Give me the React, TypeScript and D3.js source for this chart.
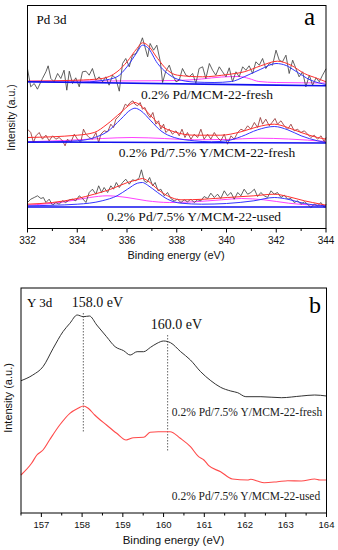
import React from "react";
import * as d3 from "d3";

// ---- panel a: Pd 3d (binding energy eV, intensity a.u.) ----
const pdTicks = [332, 334, 336, 338, 340, 342, 344];

const pdFreshRaw = [[332.00,159.7],[332.13,141.7],[332.27,145],[332.40,139.3],[332.60,150],[332.74,156.7],[332.83,162.7],[332.94,150],[333.07,146.7],[333.21,155],[333.34,150],[333.47,158.3],[333.58,138.3],[333.68,157.3],[333.81,145],[333.94,150.7],[334.08,141.7],[334.21,156.7],[334.35,157.3],[334.48,153.3],[334.61,160],[334.75,148.3],[334.88,151.7],[335.02,146.7],[335.15,151.7],[335.28,143.3],[335.42,153.3],[335.55,150],[335.69,137.3],[335.82,165],[335.95,170],[336.09,161.7],[336.22,173.3],[336.36,175],[336.49,181.7],[336.62,190.7],[336.72,181.7],[336.83,171.7],[336.93,185],[337.07,178.3],[337.20,183.3],[337.34,166.7],[337.43,146],[337.56,157.3],[337.70,163.3],[337.83,153.3],[337.97,146.7],[338.10,148.3],[338.23,160],[338.37,153.3],[338.50,151.7],[338.64,155],[338.77,145],[338.90,160],[339.04,161.7],[339.17,150],[339.31,165],[339.44,158.3],[339.57,153.3],[339.71,161.7],[339.84,156.7],[339.98,151.7],[340.11,160.7],[340.24,146.7],[340.38,156.7],[340.51,151.7],[340.65,161.7],[340.78,158.3],[340.91,162.7],[341.05,155],[341.18,166.7],[341.32,163.3],[341.45,170],[341.58,160],[341.72,165],[341.85,163.3],[341.99,178.3],[342.12,168.3],[342.25,166.7],[342.39,173.3],[342.52,155],[342.66,168.3],[342.79,160],[342.92,151.7],[343.06,156.7],[343.19,141.7],[343.33,153.3],[343.46,143.3],[343.60,150.7],[343.73,146.7],[343.86,153.3],[344.00,159.7]];
const pdFreshFit = [[332,147.3],[334,148.3],[335,150],[335.6,156.7],[336,166.7],[336.4,180],[336.62,185.7],[336.83,183.3],[337.23,170],[337.63,158.3],[338.03,153.3],[339.04,151.7],[340.04,154],[340.71,156.7],[341.38,162.7],[342.05,167.3],[342.59,163.3],[343.13,155],[343.66,150],[344,146.7]];
const pdFreshPeaks = [[332,146.7],[334,146.2],[335,148],[335.6,151.7],[336,161.7],[336.4,176],[336.62,183.3],[336.83,181],[337.23,165],[337.63,155],[338.03,149.3],[338.7,146.5],[339.5,146],[340.2,147],[340.71,151.7],[341.38,159.3],[341.99,165],[342.4,163],[342.72,158.3],[343.39,148.3],[344,144]];
const pdFreshMinor = [[332,147.3],[334,147.5],[336,147.6],[338,148],[339,149.5],[339.8,151.5],[340.5,152],[340.9,150],[341.3,147],[342,146],[343,145.7],[344,145.5]];
const pdFreshBase = [[332,146.7],[344,142.7]];

const pdYFreshRaw = [[332.00,99.3],[332.13,96],[332.24,86],[332.34,92.7],[332.47,96],[332.60,89.3],[332.74,93.3],[332.87,87.7],[333.01,92.7],[333.14,89.3],[333.27,91],[333.41,87.7],[333.51,82.7],[333.61,89.3],[333.74,86],[333.88,94.3],[334.01,89.3],[334.14,86],[334.25,99.3],[334.35,94.3],[334.48,91],[334.61,89.3],[334.75,96],[334.86,86],[334.95,94.3],[335.08,97.7],[335.22,96.7],[335.35,104.3],[335.46,101],[335.55,109.3],[335.69,112.7],[335.82,117.7],[335.93,124.3],[336.02,122.7],[336.13,126],[336.24,127.7],[336.32,124.3],[336.42,122.7],[336.53,126],[336.62,119.3],[336.72,121],[336.83,114.3],[336.93,111],[337.04,116],[337.16,104.3],[337.27,107.7],[337.36,99.3],[337.47,104.3],[337.56,96],[337.70,99.3],[337.83,94.3],[337.97,97.7],[338.10,92.7],[338.21,99.3],[338.33,91],[338.43,96],[338.57,89.3],[338.70,94.3],[338.84,91],[338.97,99.3],[339.10,89.3],[339.24,94.3],[339.37,89.3],[339.51,96],[339.64,91],[339.77,87.7],[339.91,94.3],[340.04,84.3],[340.18,92.7],[340.31,89.3],[340.45,96],[340.58,99.3],[340.71,97.7],[340.85,102.7],[340.98,99.3],[341.12,106],[341.25,101],[341.36,111],[341.45,104.3],[341.58,109.3],[341.72,102.7],[341.83,106],[341.95,110],[342.05,104.3],[342.19,107.7],[342.32,102.7],[342.46,99.3],[342.59,104.3],[342.72,97.7],[342.86,99.3],[342.99,96],[343.13,97.7],[343.26,94.3],[343.39,91],[343.53,93.3],[343.66,89.3],[343.80,92.7],[343.93,86.7],[344.00,91]];
const pdYFreshFit = [[332,91],[334,93.3],[334.68,96],[335.2,104.3],[335.75,116],[336.15,124.3],[336.32,126],[336.56,122.7],[336.96,112.7],[337.36,102.7],[337.9,96.7],[338.7,93.3],[339.77,93.3],[340.58,96.7],[341.25,101.7],[341.92,104.3],[342.46,101],[343,96],[343.66,91],[344,89.3]];
const pdYFreshPeaks = [[332,86],[334,87.7],[334.7,91],[335.2,96.7],[335.75,109.3],[336.15,118.7],[336.32,120.3],[336.56,117.7],[336.96,107.7],[337.36,97.7],[337.9,91],[338.7,87.7],[339.4,86.7],[340,87.7],[340.6,92],[341.25,98.7],[341.92,102],[342.46,98.7],[343,92.7],[343.66,87.7],[344,86]];
const pdYFreshMinor = [[332,86.7],[333.5,88],[335,90],[336.2,91],[337.5,90],[338.7,88.7],[340,89],[341.3,90.3],[342.5,89.5],[344,87]];
const pdYFreshBase = [[332,86.5],[344,85.5]];

const pdYUsedRaw = [[332.00,26],[332.13,29.3],[332.27,31],[332.40,32.7],[332.54,30],[332.64,31],[332.74,26],[332.87,29.3],[333.01,23.3],[333.14,26],[333.27,24.3],[333.41,27.7],[333.54,26],[333.68,28.7],[333.81,29.3],[333.94,27.7],[334.08,32.7],[334.21,30],[334.35,26],[334.48,36],[334.61,39.3],[334.75,34.3],[334.86,42.7],[334.98,36],[335.08,41],[335.22,36],[335.35,42.7],[335.46,39.3],[335.57,46],[335.69,41],[335.82,46],[335.95,49.3],[336.09,44.3],[336.22,48.7],[336.36,47.7],[336.49,51],[336.58,58.7],[336.69,47.7],[336.80,46],[336.91,51],[337.03,42.7],[337.13,46],[337.25,37.7],[337.36,39.3],[337.50,32.7],[337.63,36],[337.76,30],[337.90,27.7],[338.03,29.3],[338.17,26],[338.30,28.7],[338.43,26.7],[338.57,29.3],[338.70,26],[338.84,28.7],[338.97,27.7],[339.10,32],[339.24,30],[339.37,35.3],[339.51,31],[339.64,34.3],[339.77,30],[339.91,37.7],[340.04,32.7],[340.18,36],[340.31,29.3],[340.45,36],[340.58,32.7],[340.71,39.3],[340.85,34.3],[340.98,36],[341.12,39.3],[341.25,32],[341.38,36],[341.52,32.7],[341.65,31],[341.79,37.7],[341.92,34.3],[342.05,36],[342.19,31],[342.32,33.3],[342.46,29.3],[342.59,30],[342.72,26],[342.86,27.7],[342.99,24.3],[343.13,26.7],[343.26,24.3],[343.39,21],[343.53,24.3],[343.66,22.7],[343.80,26],[343.93,21],[344.00,24.3]];
const pdYUsedFit = [[332,24.3],[333,26],[334,30],[334.68,34.3],[335.35,39.3],[336.02,46],[336.42,48.7],[336.62,50],[336.83,47.7],[337.23,39.3],[337.63,32.7],[338.17,28.7],[339.1,29.3],[340.04,31],[341.1,32.7],[341.92,34.3],[342.46,32],[343.13,27.7],[343.8,24.3],[344,23.3]];
const pdYUsedPeaks = [[332,22.7],[334,24.3],[335,27.7],[335.6,32.7],[336.02,39.3],[336.42,45.3],[336.62,46],[336.83,43.3],[337.23,36],[337.63,29.3],[338.17,25.3],[339,24.3],[340,25],[341.1,27.7],[341.92,31],[342.46,29.3],[343.13,25],[344,22.7]];
const pdYUsedMinor = [[332,23.3],[333.5,26.7],[334.5,31],[335.2,32.7],[336,31],[336.8,27.7],[337.7,26],[338.7,26.7],[339.8,28.7],[340.6,30],[341.5,28.7],[342.5,25.3],[344,22.7]];
const pdYUsedBase = [[332,21.5],[344,21.5]];

const pdLabels = ["0.2% Pd/MCM-22-fresh", "0.2% Pd/7.5% Y/MCM-22-fresh", "0.2% Pd/7.5% Y/MCM-22-used"];

// ---- panel b: Y 3d ----
const yTicks = [157, 158, 159, 160, 161, 162, 163, 164];
const yFresh = [[156.5,132.3],[156.79,138],[157.04,146.3],[157.29,164.7],[157.53,181.3],[157.7,189.7],[157.88,198],[158.03,196.3],[158.18,197],[158.36,188],[158.6,176.3],[158.81,166.3],[159.02,162.3],[159.18,158],[159.35,161.3],[159.51,161.3],[159.68,165.7],[159.84,169.7],[160.0,172],[160.17,170.3],[160.42,161.3],[160.66,153],[160.91,141.3],[161.16,132.3],[161.4,125.7],[161.65,122],[161.82,120.3],[162.02,116.3],[162.39,116.3],[162.89,115.3],[163.38,117],[163.71,118],[164,117]];
const yUsed = [[156.5,38],[156.76,49.7],[156.89,58],[157.04,63],[157.2,73],[157.45,88],[157.7,99.7],[157.9,104.7],[158.03,107],[158.15,104.7],[158.31,98],[158.6,88],[158.85,79.7],[159.08,73],[159.26,75.3],[159.51,75.7],[159.67,80.7],[159.87,81.3],[160.16,81.3],[160.41,74.7],[160.66,66.3],[160.86,56.3],[160.99,53],[161.11,47.3],[161.4,41.3],[161.69,34],[162.06,33],[162.14,33.7],[162.3,32],[162.47,30.3],[162.8,31.3],[163.05,32.3],[163.38,32],[163.71,34],[163.84,33],[164,33]];
const yPeakMarks = [
  { e: 158.03, top: 200, bottom: 80, label: "158.0 eV" },
  { e: 160.1, top: 178, bottom: 61, label: "160.0 eV" },
];
const yLabels = ["0.2% Pd/7.5% Y/MCM-22-fresh", "0.2% Pd/7.5% Y/MCM-22-used"];

const serif = "'Liberation Serif', 'Times New Roman', serif";
const sans = "'Liberation Sans', Arial, sans-serif";

export default function App() {
  // panel a
  const xa = d3.scaleLinear().domain([332, 344]).range([27.5, 326]);
  const ya = d3.scaleLinear().domain([0, 223]).range([228.5, 5.5]);
  const rawA = d3.line().x((d) => xa(d[0])).y((d) => ya(d[1]));
  const fitA = d3.line().x((d) => xa(d[0])).y((d) => ya(d[1])).curve(d3.curveMonotoneX);

  // panel b
  const xb = d3.scaleLinear().domain([156.5, 164]).range([21, 326.5]);
  const yb = d3.scaleLinear().domain([0, 225]).range([513, 288]);
  const lineB = d3.line().x((d) => xb(d[0])).y((d) => yb(d[1])).curve(d3.curveMonotoneX);

  const groups = [
    { raw: pdFreshRaw, rawColor: "#3a3a3a", fit: pdFreshFit, peaks: pdFreshPeaks, minor: pdFreshMinor, base: pdFreshBase },
    { raw: pdYFreshRaw, rawColor: "#8e2a2a", fit: pdYFreshFit, peaks: pdYFreshPeaks, minor: pdYFreshMinor, base: pdYFreshBase },
    { raw: pdYUsedRaw, rawColor: "#3a3a3a", fit: pdYUsedFit, peaks: pdYUsedPeaks, minor: pdYUsedMinor, base: pdYUsedBase },
  ];

  const minorA = d3.range(333, 344, 2);
  const minorB = d3.range(156.5, 164, 1);

  return (
    <svg width={338} height={550} style={{ position: "absolute", left: 0, top: 0, background: "#fff" }}>
      {/* ===== panel a ===== */}
      <g fill="none" strokeLinejoin="round">
        {groups.map((g, i) => (
          <g key={i}>
            <path d={fitA(g.minor)} stroke="#ff40ff" strokeWidth={1} />
            <path d={rawA(g.raw)} stroke={g.rawColor} strokeWidth={0.8} />
            <path d={fitA(g.peaks)} stroke="#3535ff" strokeWidth={1} />
            <path d={fitA(g.fit)} stroke="#ff2e2e" strokeWidth={1} />
            <path d={rawA(g.base)} stroke="#1010ee" strokeWidth={1.6} />
          </g>
        ))}
      </g>
      <rect x={27.5} y={5.5} width={298.5} height={223} fill="none" stroke="#000" strokeWidth={1} />
      <g stroke="#000">
        {pdTicks.map((t) => (
          <line key={t} x1={xa(t)} x2={xa(t)} y1={228.5} y2={232.5} />
        ))}
        {minorA.map((t) => (
          <line key={t} x1={xa(t)} x2={xa(t)} y1={228.5} y2={231} />
        ))}
      </g>
      <g fontFamily={sans} fontSize={10} textAnchor="middle" fill="#111">
        {pdTicks.map((t) => (
          <text key={t} x={xa(t)} y={243.5}>{t}</text>
        ))}
      </g>
      <text x={176} y={258.5} fontFamily={sans} fontSize={11} textAnchor="middle" fill="#111">Binding energy (eV)</text>
      <text transform="translate(14.5,117.5) rotate(-90)" fontFamily={sans} fontSize={10.5} textAnchor="middle" fill="#111">Intensity (a.u.)</text>
      <text x={36.5} y={23.5} fontFamily={serif} fontSize={13} fill="#000">Pd 3d</text>
      <text x={304} y={25} fontFamily={serif} fontSize={25} fill="#000">a</text>
      <g fontFamily={serif} fontSize={13.5} textAnchor="middle" fill="#111">
        <text x={207} y={99}>{pdLabels[0]}</text>
        <text x={207} y={156.5}>{pdLabels[1]}</text>
        <text x={194} y={220.5}>{pdLabels[2]}</text>
      </g>

      {/* ===== panel b ===== */}
      <g fill="none">
        {yPeakMarks.map((m) => (
          <line key={m.e} x1={xb(m.e)} x2={xb(m.e)} y1={yb(m.top)} y2={yb(m.bottom)} stroke="#666" strokeWidth={1} strokeDasharray="1.5,1.5" />
        ))}
        <path d={lineB(yFresh)} stroke="#333" strokeWidth={1} />
        <path d={lineB(yUsed)} stroke="#ff4a4a" strokeWidth={1.1} />
      </g>
      <rect x={21} y={288} width={305.5} height={225} fill="none" stroke="#000" strokeWidth={1} />
      <g stroke="#000">
        {yTicks.map((t) => (
          <line key={t} x1={xb(t)} x2={xb(t)} y1={513} y2={517} />
        ))}
        {minorB.map((t) => (
          <line key={t} x1={xb(t)} x2={xb(t)} y1={513} y2={515.5} />
        ))}
      </g>
      <g fontFamily={sans} fontSize={9.5} textAnchor="middle" fill="#111">
        {yTicks.map((t) => (
          <text key={t} x={xb(t)} y={527.5}>{t}</text>
        ))}
      </g>
      <text x={173.5} y={543.5} fontFamily={sans} fontSize={11.5} textAnchor="middle" fill="#111">Binding energy (eV)</text>
      <text transform="translate(11.5,398) rotate(-90)" fontFamily={sans} fontSize={11} textAnchor="middle" fill="#111">Intensity (a.u.)</text>
      <text x={27} y={306.5} fontFamily={serif} fontSize={13} fill="#000">Y 3d</text>
      <text x={309} y={313} fontFamily={serif} fontSize={24} fill="#000">b</text>
      <g fontFamily={serif} fontSize={14} textAnchor="middle" fill="#111">
        <text x={97.5} y={306.5}>{yPeakMarks[0].label}</text>
        <text x={176.5} y={328.5}>{yPeakMarks[1].label}</text>
      </g>
      <g fontFamily={serif} fontSize={11.5} textAnchor="middle" fill="#222">
        <text x={247} y={415.5}>{yLabels[0]}</text>
        <text x={246} y={500}>{yLabels[1]}</text>
      </g>
    </svg>
  );
}
